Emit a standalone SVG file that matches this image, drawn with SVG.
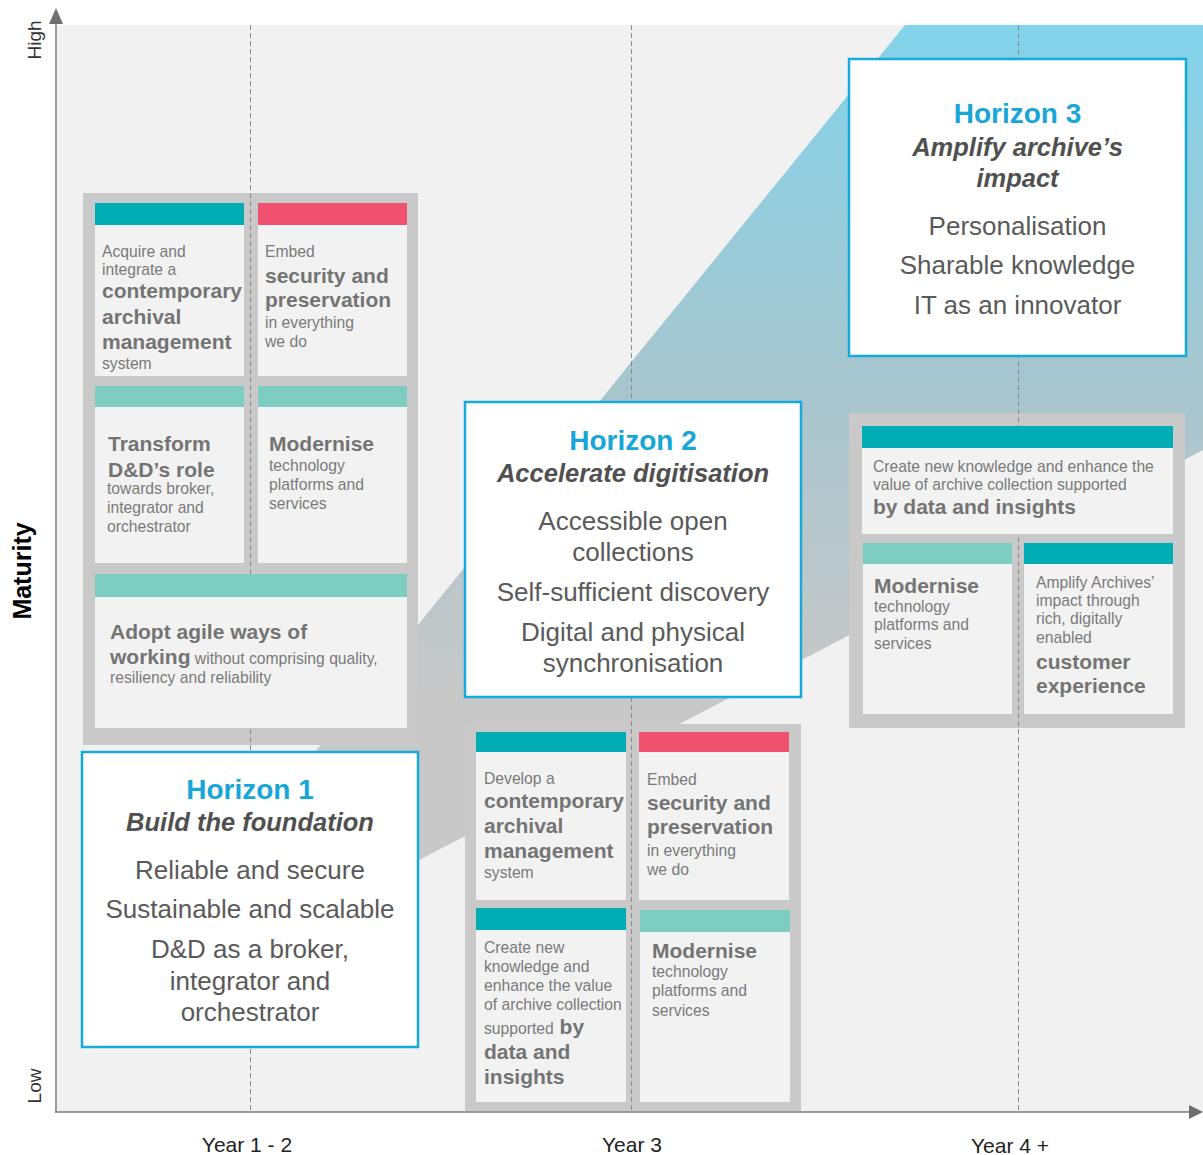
<svg xmlns="http://www.w3.org/2000/svg" width="1203" height="1155" viewBox="0 0 1203 1155">
<defs>
<linearGradient id="band" gradientUnits="userSpaceOnUse" x1="0" y1="25" x2="0" y2="700">
<stop offset="0" stop-color="#82d3ea"/>
<stop offset="0.55" stop-color="#a8c5cd"/>
<stop offset="1" stop-color="#c8c8c8"/>
</linearGradient>
<style>
text{font-family:"Liberation Sans",Arial,sans-serif}
.cont{fill:#c9c9c9}
.card{fill:#f2f2f2}
.teal{fill:#00adb4}
.pink{fill:#f0516e}
.lt{fill:#7ecdc2}
.sm{font-size:15.7px;fill:#7a7a7a}
.bd{font-size:21px;font-weight:bold;fill:#747474}
.hbox{fill:#ffffff;stroke:#16aadb;stroke-width:2.5}
.ht{font-size:28px;font-weight:bold;fill:#17a6d8;text-anchor:middle}
.hs{font-size:25.5px;font-weight:bold;font-style:italic;fill:#505050;text-anchor:middle}
.hb{font-size:26px;fill:#5a5a5a;text-anchor:middle}
.dash{stroke:#8a8a8a;stroke-width:1;stroke-dasharray:5 3;fill:none}
.axis{stroke:#7a7a7a;stroke-width:1.5;fill:none}
.yr{font-size:21px;fill:#222;text-anchor:middle}
.lh{font-size:19px;fill:#333;text-anchor:middle}
</style>
</defs>
<rect x="0" y="0" width="1203" height="1155" fill="#ffffff"/>
<rect x="57" y="25" width="1146" height="1087" fill="#f1f1f1"/>
<polygon points="85,1035 905,25 1203,25 1203,450" fill="url(#band)"/>

<g id="containers">
<rect class="cont" x="83" y="193" width="335" height="552"/>
<rect class="cont" x="465" y="724" width="336" height="387"/>
<rect class="cont" x="849" y="413" width="336" height="315"/>
</g>

<g id="connectors">
<line class="dash" x1="250.5" y1="25" x2="250.5" y2="1111"/>
<line class="dash" x1="631.5" y1="25" x2="631.5" y2="1111"/>
<line class="dash" x1="1018.5" y1="25" x2="1018.5" y2="1111"/>
<line class="axis" x1="56" y1="1112" x2="56" y2="22"/>
<polygon points="56,8 49,24 63,24" fill="#6f6f6f"/>
<line class="axis" x1="55" y1="1112" x2="1191" y2="1112"/>
<polygon points="1203,1112 1189,1105 1189,1119" fill="#6f6f6f"/>
</g>

<g id="axis-labels">
<text class="lh" transform="translate(41,40) rotate(-90)">High</text>
<text class="lh" transform="translate(41,1086) rotate(-90)">Low</text>
<text transform="translate(31,571) rotate(-90)" style="font-size:25px;font-weight:bold;fill:#000;text-anchor:middle">Maturity</text>
<text class="yr" x="247" y="1152">Year 1 - 2</text>
<text class="yr" x="632" y="1152">Year 3</text>
<text class="yr" x="1010" y="1153">Year 4 +</text>
</g>

<g id="card-h1-acquire">
<rect class="card" x="95" y="203" width="149" height="173"/>
<rect class="teal" x="95" y="203" width="149" height="22"/>
<text class="sm" x="102" y="257">Acquire and</text>
<text class="sm" x="102" y="275">integrate a</text>
<text class="bd" x="102" y="298">contemporary</text>
<text class="bd" x="102" y="324">archival</text>
<text class="bd" x="102" y="349">management</text>
<text class="sm" x="102" y="369">system</text>
</g>
<g id="card-h1-security">
<rect class="card" x="258" y="203" width="149" height="173"/>
<rect class="pink" x="258" y="203" width="149" height="22"/>
<text class="sm" x="265" y="257">Embed</text>
<text class="bd" x="265" y="283">security and</text>
<text class="bd" x="265" y="307">preservation</text>
<text class="sm" x="265" y="328">in everything</text>
<text class="sm" x="265" y="347">we do</text>
</g>
<g id="card-h1-transform">
<rect class="card" x="95" y="386" width="149" height="177"/>
<rect class="lt" x="95" y="386" width="149" height="21"/>
<text class="bd" x="108" y="451">Transform</text>
<text class="bd" x="108" y="477">D&amp;D’s role</text>
<text class="sm" x="107" y="494">towards broker,</text>
<text class="sm" x="107" y="513">integrator and</text>
<text class="sm" x="107" y="532">orchestrator</text>
</g>
<g id="card-h1-modernise">
<rect class="card" x="258" y="386" width="149" height="177"/>
<rect class="lt" x="258" y="386" width="149" height="21"/>
<text class="bd" x="269" y="451">Modernise</text>
<text class="sm" x="269" y="471">technology</text>
<text class="sm" x="269" y="490">platforms and</text>
<text class="sm" x="269" y="509">services</text>
</g>
<g id="card-h1-agile">
<rect class="card" x="95" y="574" width="312" height="154"/>
<rect class="lt" x="95" y="574" width="312" height="23"/>
<text class="bd" x="110" y="639">Adopt agile ways of</text>
<text class="bd" x="110" y="664">working<tspan class="sm" font-weight="normal"> without comprising quality,</tspan></text>
<text class="sm" x="110" y="683">resiliency and reliability</text>
</g>

<g id="card-h2-develop">
<rect class="card" x="476" y="732" width="150" height="168"/>
<rect class="teal" x="476" y="732" width="150" height="20"/>
<text class="sm" x="484" y="784">Develop a</text>
<text class="bd" x="484" y="808">contemporary</text>
<text class="bd" x="484" y="833">archival</text>
<text class="bd" x="484" y="858">management</text>
<text class="sm" x="484" y="878">system</text>
</g>
<g id="card-h2-security">
<rect class="card" x="639" y="732" width="150" height="168"/>
<rect class="pink" x="639" y="732" width="150" height="20"/>
<text class="sm" x="647" y="785">Embed</text>
<text class="bd" x="647" y="810">security and</text>
<text class="bd" x="647" y="834">preservation</text>
<text class="sm" x="647" y="856">in everything</text>
<text class="sm" x="647" y="875">we do</text>
</g>
<g id="card-h2-create">
<rect class="card" x="476" y="908" width="150" height="194"/>
<rect class="teal" x="476" y="908" width="150" height="22"/>
<text class="sm" x="484" y="953">Create new</text>
<text class="sm" x="484" y="972">knowledge and</text>
<text class="sm" x="484" y="991">enhance the value</text>
<text class="sm" x="484" y="1010">of archive collection</text>
<text class="sm" x="484" y="1034">supported<tspan class="bd"> by</tspan></text>
<text class="bd" x="484" y="1059">data and</text>
<text class="bd" x="484" y="1084">insights</text>
</g>
<g id="card-h2-modernise">
<rect class="card" x="640" y="910" width="150" height="192"/>
<rect class="lt" x="640" y="910" width="150" height="22"/>
<text class="bd" x="652" y="958">Modernise</text>
<text class="sm" x="652" y="977">technology</text>
<text class="sm" x="652" y="996">platforms and</text>
<text class="sm" x="652" y="1016">services</text>
</g>

<g id="card-h3-create">
<rect class="card" x="862" y="426" width="311" height="108"/>
<rect class="teal" x="862" y="426" width="311" height="22"/>
<text class="sm" x="873" y="472">Create new knowledge and enhance the</text>
<text class="sm" x="873" y="490">value of archive collection supported</text>
<text class="bd" x="873" y="514">by data and insights</text>
</g>
<g id="card-h3-modernise">
<rect class="card" x="863" y="543" width="149" height="171"/>
<rect class="lt" x="863" y="543" width="149" height="21"/>
<text class="bd" x="874" y="593">Modernise</text>
<text class="sm" x="874" y="612">technology</text>
<text class="sm" x="874" y="630">platforms and</text>
<text class="sm" x="874" y="649">services</text>
</g>
<g id="card-h3-amplify">
<rect class="card" x="1024" y="543" width="149" height="171"/>
<rect class="teal" x="1024" y="543" width="149" height="21"/>
<text class="sm" x="1036" y="588">Amplify Archives’</text>
<text class="sm" x="1036" y="606">impact through</text>
<text class="sm" x="1036" y="624">rich, digitally</text>
<text class="sm" x="1036" y="643">enabled</text>
<text class="bd" x="1036" y="669">customer</text>
<text class="bd" x="1036" y="693">experience</text>
</g>

<g id="horizon-1">
<rect class="hbox" x="82" y="752" width="336" height="295"/>
<text class="ht" x="250" y="799">Horizon 1</text>
<text class="hs" x="250" y="831">Build the foundation</text>
<text class="hb" x="250" y="879">Reliable and secure</text>
<text class="hb" x="250" y="918">Sustainable and scalable</text>
<text class="hb" x="250" y="958">D&amp;D as a broker,</text>
<text class="hb" x="250" y="990">integrator and</text>
<text class="hb" x="250" y="1021">orchestrator</text>
</g>
<g id="horizon-2">
<rect class="hbox" x="465" y="402" width="336" height="295"/>
<text class="ht" x="633" y="450">Horizon 2</text>
<text class="hs" x="633" y="482">Accelerate digitisation</text>
<text class="hb" x="633" y="530">Accessible open</text>
<text class="hb" x="633" y="561">collections</text>
<text class="hb" x="633" y="601">Self-sufficient discovery</text>
<text class="hb" x="633" y="641">Digital and physical</text>
<text class="hb" x="633" y="672">synchronisation</text>
</g>
<g id="horizon-3">
<rect class="hbox" x="849" y="59" width="337" height="297"/>
<text class="ht" x="1017.5" y="123">Horizon 3</text>
<text class="hs" x="1017.5" y="156">Amplify archive’s</text>
<text class="hs" x="1017.5" y="187">impact</text>
<text class="hb" x="1017.5" y="235">Personalisation</text>
<text class="hb" x="1017.5" y="274">Sharable knowledge</text>
<text class="hb" x="1017.5" y="314">IT as an innovator</text>
</g>
</svg>
